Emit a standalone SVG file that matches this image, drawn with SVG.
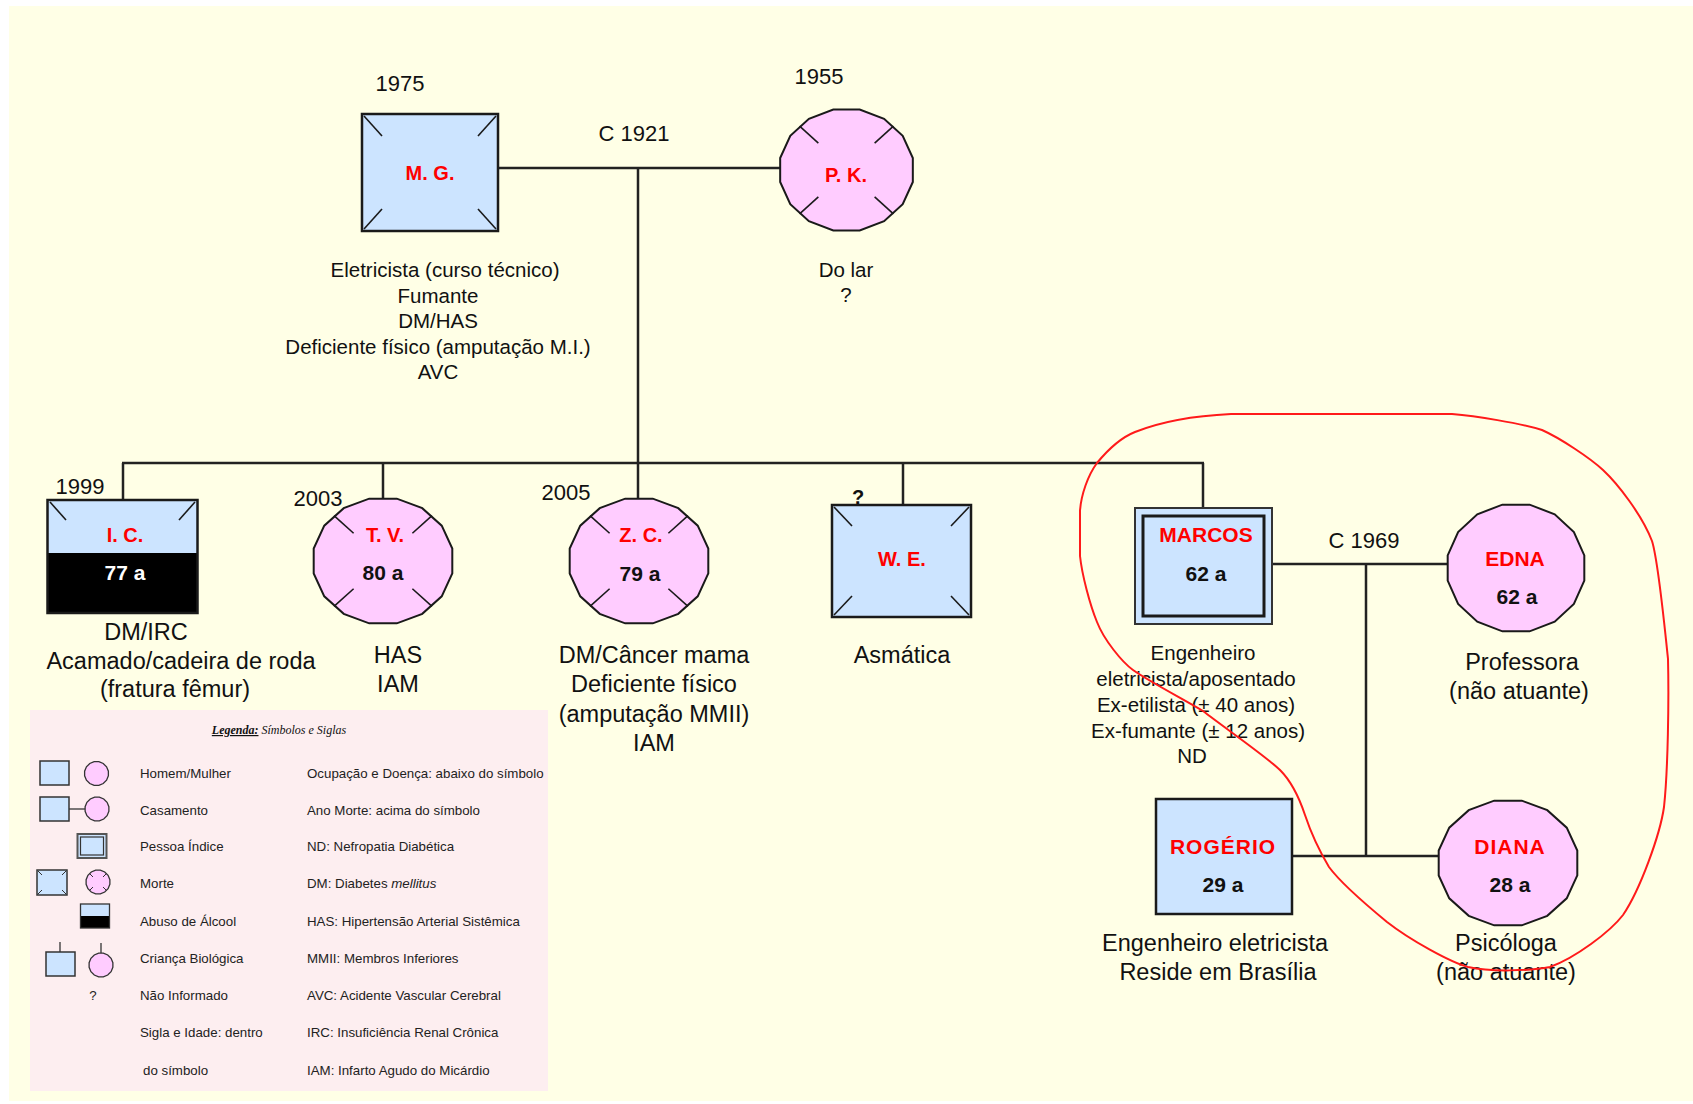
<svg xmlns="http://www.w3.org/2000/svg" xmlns:xlink="http://www.w3.org/1999/xlink" width="1693" height="1104" viewBox="0 0 1693 1104">
  <style>
    .male { fill: #cce4ff; stroke: #1a1a1a; stroke-width: 2.5; }
    .fem { fill: #ffccff; stroke: #1a1a1a; stroke-width: 2; }
    .tick { stroke: #1a1a1a; stroke-width: 1.6; fill: none; }
    .link { stroke: #222; stroke-width: 2.5; fill: none; }
    .name { font-family: "Liberation Sans", Arial, sans-serif; font-weight: bold; font-size: 20px; fill: #ff0000; text-anchor: middle; }
    .age { font-family: "Liberation Sans", Arial, sans-serif; font-weight: bold; font-size: 21px; fill: #111; text-anchor: middle; }
    .yr { font-family: "Liberation Sans", Arial, sans-serif; font-size: 22px; fill: #111; text-anchor: middle; }
    .note { font-family: "Liberation Sans", Arial, sans-serif; font-size: 20.5px; fill: #111; text-anchor: middle; }
    .big { font-family: "Liberation Sans", Arial, sans-serif; font-size: 23.5px; fill: #111; text-anchor: middle; }
    .lg { font-family: "Liberation Sans", Arial, sans-serif; font-size: 13.3px; fill: #222; }
    .lsym { fill: #cce4ff; stroke: #333; stroke-width: 1.5; }
    .lfem { fill: #ffccff; stroke: #333; stroke-width: 1.3; }
  </style>
  <defs>
    <!-- unit 16-gon used for the female symbol -->
    <polygon id="circ" vector-effect="non-scaling-stroke" points="0.99,0.197 0.839,0.561 0.561,0.839 0.197,0.99 -0.197,0.99 -0.561,0.839 -0.839,0.561 -0.99,0.197 -0.99,-0.197 -0.839,-0.561 -0.561,-0.839 -0.197,-0.99 0.197,-0.99 0.561,-0.839 0.839,-0.561 0.99,-0.197"/>
    <!-- diagonal death marks in unit coordinates -->
    <g id="xmarks" stroke="#1a1a1a" stroke-width="1.6">
      <line vector-effect="non-scaling-stroke" x1="-0.7" y1="-0.72" x2="-0.42" y2="-0.44"/>
      <line vector-effect="non-scaling-stroke" x1="0.7" y1="-0.72" x2="0.42" y2="-0.44"/>
      <line vector-effect="non-scaling-stroke" x1="-0.7" y1="0.72" x2="-0.42" y2="0.44"/>
      <line vector-effect="non-scaling-stroke" x1="0.7" y1="0.72" x2="0.42" y2="0.44"/>
    </g>
  </defs>

  <!-- page background -->
  <rect x="0" y="0" width="1693" height="1104" fill="#ffffff"/>
  <rect x="9" y="6" width="1684" height="1095" fill="#ffffe6"/>

  <!-- connectors -->
  <g id="connectors">
    <line class="link" x1="498" y1="168" x2="780" y2="168"/>
    <line class="link" x1="638" y1="168" x2="638" y2="463"/>
    <line class="link" x1="122" y1="463" x2="1204" y2="463"/>
    <line class="link" x1="123" y1="463" x2="123" y2="500"/>
    <line class="link" x1="383" y1="463" x2="383" y2="498"/>
    <line class="link" x1="638" y1="463" x2="638" y2="498"/>
    <line class="link" x1="903" y1="463" x2="903" y2="505"/>
    <line class="link" x1="1203" y1="463" x2="1203" y2="508"/>
    <line class="link" x1="1272" y1="564" x2="1447" y2="564"/>
    <line class="link" x1="1366" y1="564" x2="1366" y2="856"/>
    <line class="link" x1="1292" y1="856" x2="1438" y2="856"/>
  </g>

  <!-- M. G. -->
  <g id="node-mg">
    <text class="yr" x="400" y="91">1975</text>
    <rect class="male" x="362" y="114" width="136" height="117"/>
    <g class="tick">
      <line x1="364" y1="116" x2="382" y2="136"/>
      <line x1="496" y1="116" x2="478" y2="136"/>
      <line x1="364" y1="229" x2="382" y2="209"/>
      <line x1="496" y1="229" x2="478" y2="209"/>
    </g>
    <text class="name" x="430" y="180">M. G.</text>
    <text class="note" x="445" y="277">Eletricista (curso técnico)</text>
    <text class="note" x="438" y="303">Fumante</text>
    <text class="note" x="438" y="328">DM/HAS</text>
    <text class="note" x="438" y="354">Deficiente físico (amputação M.I.)</text>
    <text class="note" x="438" y="379">AVC</text>
  </g>

  <!-- C 1921 -->
  <g id="label-c1921">
    <text class="yr" x="634" y="141">C 1921</text>
  </g>

  <!-- P. K. -->
  <g id="node-pk">
    <text class="yr" x="819" y="84">1955</text>
    <use xlink:href="#circ" class="fem" transform="translate(846.5,170) scale(67,61)"/>
    <use xlink:href="#xmarks" transform="translate(846.5,170) scale(67,61)"/>
    <text class="name" x="846" y="182">P. K.</text>
    <text class="note" x="846" y="277">Do lar</text>
    <text class="note" x="846" y="302">?</text>
  </g>

  <!-- I. C. -->
  <g id="node-ic">
    <text class="yr" x="80" y="494">1999</text>
    <rect x="47.5" y="500" width="150" height="53" fill="#cce4ff"/>
    <rect x="47.5" y="553" width="150" height="60" fill="#000"/>
    <rect x="47.5" y="500" width="150" height="113" fill="none" stroke="#1a1a1a" stroke-width="2.5"/>
    <g class="tick">
      <line x1="50" y1="502" x2="66" y2="520"/>
      <line x1="195" y1="502" x2="179" y2="520"/>
    </g>
    <text class="name" x="125" y="542">I. C.</text>
    <text class="age" x="125" y="580" style="fill:#fff">77 a</text>
    <text class="big" x="146" y="640">DM/IRC</text>
    <text class="big" x="181" y="669">Acamado/cadeira de roda</text>
    <text class="big" x="175" y="697">(fratura fêmur)</text>
  </g>

  <!-- T. V. -->
  <g id="node-tv">
    <text class="yr" x="318" y="506">2003</text>
    <use xlink:href="#circ" class="fem" transform="translate(383,561) scale(70,63)"/>
    <use xlink:href="#xmarks" transform="translate(383,561) scale(70,63)"/>
    <text class="name" x="385" y="542">T. V.</text>
    <text class="age" x="383" y="580">80 a</text>
    <text class="big" x="398" y="663">HAS</text>
    <text class="big" x="398" y="692">IAM</text>
  </g>

  <!-- Z. C. -->
  <g id="node-zc">
    <text class="yr" x="566" y="500">2005</text>
    <use xlink:href="#circ" class="fem" transform="translate(639,561) scale(70,63)"/>
    <use xlink:href="#xmarks" transform="translate(639,561) scale(70,63)"/>
    <text class="name" x="641" y="542">Z. C.</text>
    <text class="age" x="640" y="581">79 a</text>
    <text class="big" x="654" y="663">DM/Câncer mama</text>
    <text class="big" x="654" y="692">Deficiente físico</text>
    <text class="big" x="654" y="722">(amputação MMII)</text>
    <text class="big" x="654" y="751">IAM</text>
  </g>

  <!-- W. E. -->
  <g id="node-we">
    <text x="858" y="504" font-family="Liberation Sans, Arial, sans-serif" font-weight="bold" font-size="20" text-anchor="middle" fill="#111">?</text>
    <rect class="male" x="832" y="505" width="139" height="112"/>
    <g class="tick">
      <line x1="834" y1="507" x2="852" y2="526"/>
      <line x1="969" y1="507" x2="951" y2="526"/>
      <line x1="834" y1="615" x2="852" y2="596"/>
      <line x1="969" y1="615" x2="951" y2="596"/>
    </g>
    <text class="name" x="902" y="566">W. E.</text>
    <text class="big" x="902" y="663">Asmática</text>
  </g>

  <!-- MARCOS (index person) -->
  <g id="node-marcos">
    <rect x="1135" y="508" width="137" height="116" fill="#cce4ff" stroke="#333" stroke-width="2"/>
    <rect x="1143" y="516" width="121" height="100" fill="none" stroke="#1a1a1a" stroke-width="3"/>
    <text class="name" x="1206" y="542" style="font-size:21px">MARCOS</text>
    <text class="age" x="1206" y="581">62 a</text>
    <text class="note" x="1203" y="660">Engenheiro</text>
    <text class="note" x="1196" y="686">eletricista/aposentado</text>
    <text class="note" x="1196" y="712">Ex-etilista (± 40 anos)</text>
    <text class="note" x="1198" y="738">Ex-fumante (± 12 anos)</text>
    <text class="note" x="1192" y="763">ND</text>
  </g>

  <!-- C 1969 -->
  <g id="label-c1969">
    <text class="yr" x="1364" y="548">C 1969</text>
  </g>

  <!-- EDNA -->
  <g id="node-edna">
    <use xlink:href="#circ" class="fem" transform="translate(1516,568) scale(69,64)"/>
    <text class="name" x="1515" y="566" style="font-size:21px">EDNA</text>
    <text class="age" x="1517" y="604">62 a</text>
    <text class="big" x="1522" y="670">Professora</text>
    <text class="big" x="1519" y="699">(não atuante)</text>
  </g>

  <!-- ROGÉRIO -->
  <g id="node-rogerio">
    <rect class="male" x="1156" y="799" width="136" height="115"/>
    <text class="name" x="1223" y="854" style="font-size:21px;letter-spacing:1px">ROGÉRIO</text>
    <text class="age" x="1223" y="892">29 a</text>
    <text class="big" x="1215" y="951">Engenheiro eletricista</text>
    <text class="big" x="1218" y="980">Reside em Brasília</text>
  </g>

  <!-- DIANA -->
  <g id="node-diana">
    <use xlink:href="#circ" class="fem" transform="translate(1508,863) scale(70,63)"/>
    <text class="name" x="1510" y="854" style="font-size:21px;letter-spacing:1px">DIANA</text>
    <text class="age" x="1510" y="892">28 a</text>
    <text class="big" x="1506" y="951">Psicóloga</text>
    <text class="big" x="1506" y="980">(não atuante)</text>
  </g>

  <!-- hand-drawn outline around the nuclear family -->
  <g id="family-outline">
    <path d="M1080,511 C1081,495 1088,475 1097,463 C1106,452 1120,438 1135,432 C1160,422 1190,416 1231,414 L1452,414 C1475,416 1520,423 1542,430 C1560,438 1590,458 1603,470 C1618,484 1642,515 1652,541 C1658,560 1664,620 1668,659 C1669,700 1668,770 1664,807 C1660,835 1640,890 1623,915 C1610,932 1575,958 1550,967 C1530,971 1490,972 1468,967 C1450,962 1410,940 1387,922 C1370,908 1340,882 1329,867 C1320,852 1310,830 1305,815 C1300,800 1292,782 1280,770 C1268,758 1225,728 1203,711 C1185,700 1150,682 1133,670 C1122,662 1104,640 1097,622 C1090,605 1082,575 1080,556 Z" fill="none" stroke="#ff1a1a" stroke-width="2"/>
  </g>

  <!-- legend -->
  <g id="legend">
    <rect x="30" y="710" width="518" height="381" fill="#fdeef0"/>
    <text x="279" y="734" text-anchor="middle" font-family="Liberation Serif, serif" font-style="italic" font-size="12" fill="#111"><tspan font-weight="bold" text-decoration="underline">Legenda:</tspan> Símbolos e Siglas</text>

    <rect class="lsym" x="40" y="761" width="29" height="24"/>
    <use xlink:href="#circ" class="lfem" transform="translate(96.5,773.5) scale(12,12)"/>
    <text class="lg" x="140" y="778">Homem/Mulher</text>
    <text class="lg" x="307" y="778">Ocupação e Doença: abaixo do símbolo</text>

    <rect class="lsym" x="40" y="797" width="29" height="24"/>
    <line x1="69" y1="809" x2="85" y2="809" stroke="#333" stroke-width="1.3"/>
    <use xlink:href="#circ" class="lfem" transform="translate(97,809) scale(12,12)"/>
    <text class="lg" x="140" y="815">Casamento</text>
    <text class="lg" x="307" y="815">Ano Morte: acima do símbolo</text>

    <rect x="77.5" y="834" width="29" height="24" fill="#cce4ff" stroke="#555" stroke-width="2"/>
    <rect x="80.5" y="837" width="23" height="18" fill="none" stroke="#333" stroke-width="1.2"/>
    <text class="lg" x="140" y="851">Pessoa Índice</text>
    <text class="lg" x="307" y="851">ND: Nefropatia Diabética</text>

    <rect class="lsym" x="37" y="870" width="30" height="25"/>
    <g stroke="#333" stroke-width="1">
      <line x1="38" y1="871" x2="42" y2="875"/>
      <line x1="66" y1="871" x2="62" y2="875"/>
      <line x1="38" y1="894" x2="42" y2="890"/>
      <line x1="66" y1="894" x2="62" y2="890"/>
    </g>
    <use xlink:href="#circ" class="lfem" transform="translate(98,882) scale(12,12)"/>
    <g stroke="#333" stroke-width="1">
      <line x1="89.6" y1="873.6" x2="93" y2="877"/>
      <line x1="106.4" y1="873.6" x2="103" y2="877"/>
      <line x1="89.6" y1="890.4" x2="93" y2="887"/>
      <line x1="106.4" y1="890.4" x2="103" y2="887"/>
    </g>
    <text class="lg" x="140" y="888">Morte</text>
    <text class="lg" x="307" y="888">DM: Diabetes <tspan font-style="italic">mellitus</tspan></text>

    <rect x="80.5" y="904" width="29" height="12" fill="#cce4ff"/>
    <rect x="80.5" y="916" width="29" height="12" fill="#000"/>
    <rect x="80.5" y="904" width="29" height="24" fill="none" stroke="#333" stroke-width="1.3"/>
    <text class="lg" x="140" y="926">Abuso de Álcool</text>
    <text class="lg" x="307" y="926">HAS: Hipertensão Arterial Sistêmica</text>

    <line x1="60" y1="942" x2="60" y2="952" stroke="#333" stroke-width="1.3"/>
    <rect class="lsym" x="46" y="952" width="29" height="24"/>
    <line x1="101" y1="943" x2="101" y2="953" stroke="#333" stroke-width="1.3"/>
    <use xlink:href="#circ" class="lfem" transform="translate(101,965) scale(12,12)"/>
    <text class="lg" x="140" y="963">Criança Biológica</text>
    <text class="lg" x="307" y="963">MMII: Membros Inferiores</text>

    <text class="lg" x="93" y="1000" text-anchor="middle">?</text>
    <text class="lg" x="140" y="1000">Não Informado</text>
    <text class="lg" x="307" y="1000">AVC: Acidente Vascular Cerebral</text>

    <text class="lg" x="140" y="1037">Sigla e Idade: dentro</text>
    <text class="lg" x="307" y="1037">IRC: Insuficiência Renal Crônica</text>

    <text class="lg" x="143" y="1075">do símbolo</text>
    <text class="lg" x="307" y="1075">IAM: Infarto Agudo do Micárdio</text>
  </g>
</svg>
